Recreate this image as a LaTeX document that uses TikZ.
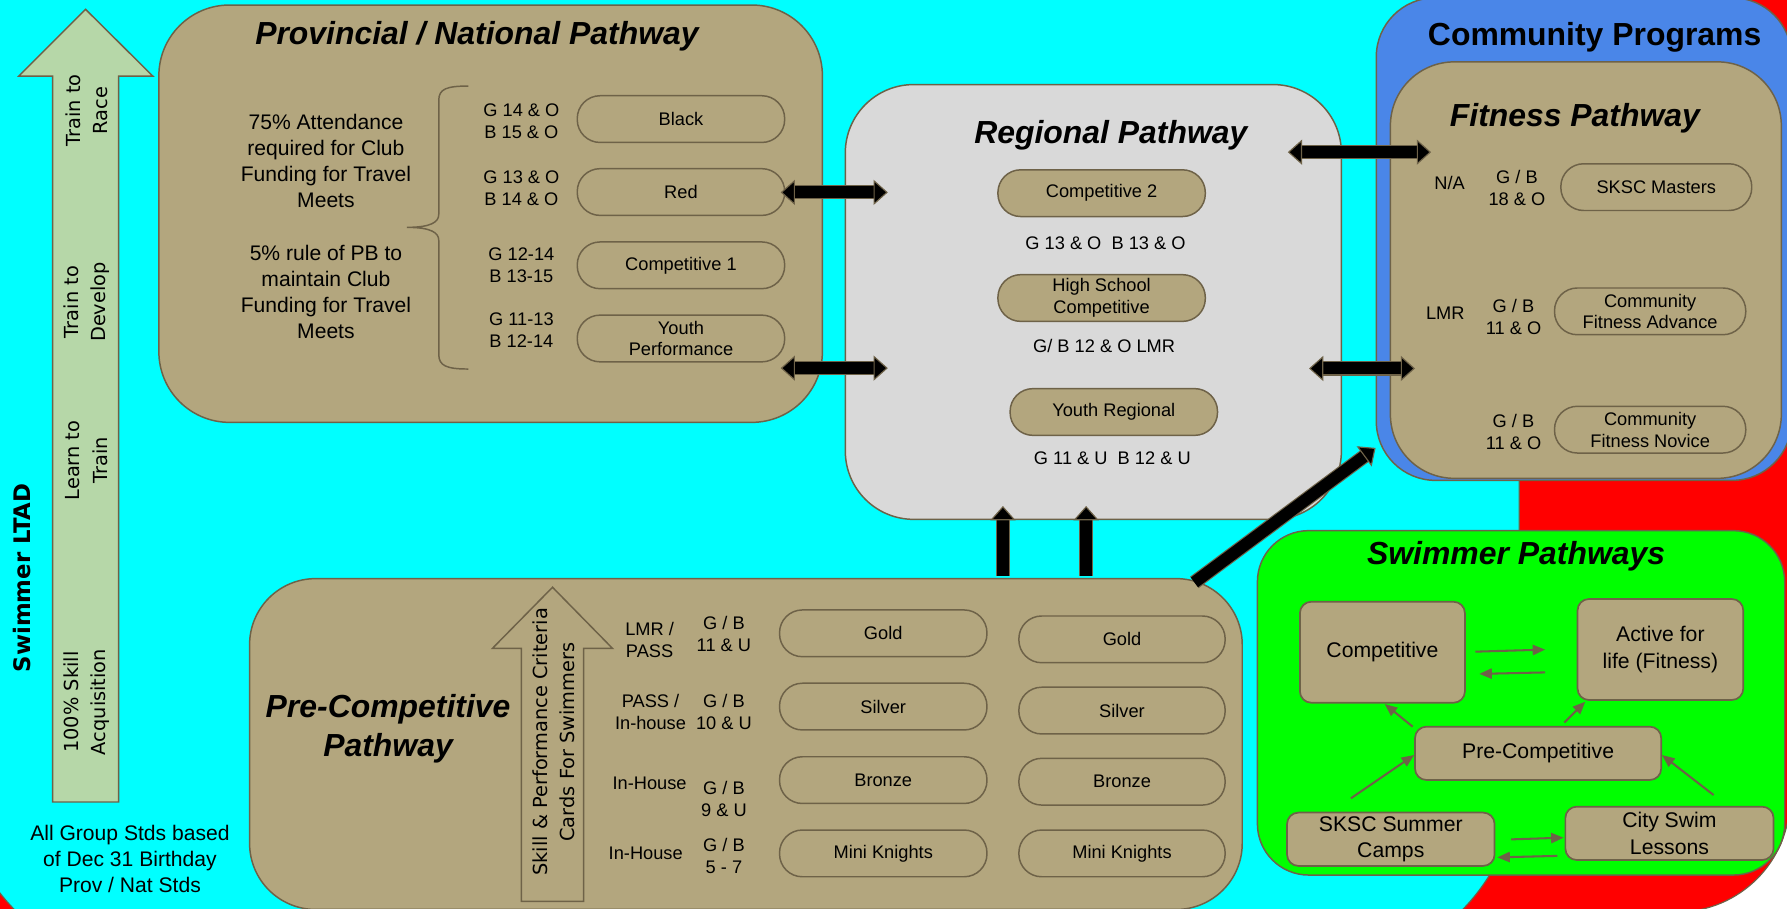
\documentclass[tikz,border=0pt]{standalone}
\usepackage{fontspec}
\setmainfont{Liberation Sans}
\newfontfamily\dvsans{DejaVu Sans}
\usetikzlibrary{arrows.meta}
\definecolor{tanfill}{HTML}{B3A67E}
\definecolor{edgecol}{HTML}{6E6248}
\definecolor{cyanbg}{HTML}{00FFFF}
\definecolor{redbg}{HTML}{FF0000}
\definecolor{regfill}{HTML}{D9D9D9}
\definecolor{bluefill}{HTML}{4A86E8}
\definecolor{greenfill}{HTML}{00FF00}
\definecolor{ltadfill}{HTML}{B6D7A8}
\newcommand\fsTitle{\fontsize{28}{34.6}\selectfont\bfseries\itshape}
\newcommand\fsHead{\fontsize{28}{32}\selectfont\bfseries}
\newcommand\fsPill{\fontsize{16}{19}\selectfont}
\newcommand\fsAge{\fontsize{16}{19.3}\selectfont}
\newcommand\fsNote{\fontsize{18.5}{22.7}\selectfont}
\newcommand\fsSw{\fontsize{18.6}{23.5}\selectfont}
\newcommand\fsRot{\dvsans\fontsize{17}{24}\selectfont}
\newcommand\fsRotB{\dvsans\fontsize{17}{23.7}\selectfont}
\newcommand\fsLtad{\dvsans\bfseries\fontsize{20}{24}\selectfont}
\tikzset{
  bigtip/.tip={Triangle[length=12.5pt,width=22pt,line width=1pt,color=edgecol,fill=black]},
  pane/.style={draw=edgecol, line width=1.3pt, inner sep=0pt, outer sep=0pt},
  txt/.style={inner sep=0pt, outer sep=0pt, align=center},
  pill/.style={draw=edgecol, fill=tanfill, line width=1.3pt, rounded corners=20pt,
    minimum width=182pt, minimum height=41pt, inner sep=0pt, align=center, font=\fsPill},
  sbox/.style={draw=edgecol, fill=tanfill, line width=1.5pt, rounded corners=10pt,
    inner sep=0pt, align=center, font=\fsSw},
  dblarrow/.style={line width=10.5pt, draw=black, bigtip-bigtip,
    preaction={draw=edgecol, line width=12.5pt, arrows=-, shorten <=9pt, shorten >=9pt}},
  sglarrow/.style={line width=10.5pt, draw=black, -bigtip,
    preaction={draw=edgecol, line width=12.5pt, arrows=-, shorten >=9pt}},
  thinarrow/.style={draw=edgecol, line width=1.8pt, -{Triangle[length=11pt,width=9pt]}}
}
\begin{document}
\begin{tikzpicture}[x=1pt,y=-1pt]
\useasboundingbox (0,0) rectangle (1568,797);
\clip (0,0) rectangle (1568,797);
% backgrounds
\fill[white] (0,0) rectangle (1568,797);
\draw[draw=edgecol, line width=1pt, fill=redbg, rounded corners=99pt] (-300,-300) rectangle (1570.6,800.2);
\draw[draw=edgecol, line width=1pt, fill=cyanbg, rounded corners=175pt] (-37,-219) rectangle (1333,851);

% LTAD arrow
\draw[draw=edgecol, line width=1.3pt, fill=ltadfill] (46.1,703.7) -- (46.1,66.7) -- (16.6,66.7) -- (75.1,8.2) -- (134,66.7) -- (104.1,66.7) -- (104.1,703.7) -- cycle;
\node[txt, rotate=90, font=\fsRot] (ltad1) at (76,97) {Train to\\Race};
\node[txt, rotate=90, font=\fsRot] (ltad2) at (76,265) {Train to\\Develop};
\node[txt, rotate=90, font=\fsRot] (ltad3) at (76,404) {Learn to\\Train};
\node[txt, rotate=90, font=\fsRot] (ltad4) at (76,616) {100\% Skill\\Acquisition};
\node[txt, rotate=90, font=\fsLtad] (ltadT) at (19,507) {Swimmer LTAD};
\node[txt, font=\fsNote] (stds) at (114,753.5) {All Group Stds based\\of Dec 31 Birthday\\Prov / Nat Stds};

% Provincial / National
\node[pane, fill=tanfill, rounded corners=62pt, minimum width=582.2pt, minimum height=366.2pt] (prov) at (430.5,187.5) {};
\node[txt, font=\fsTitle] (provT) at (418.5,32.2) {Provincial / National Pathway};
\node[txt, font=\fsNote] (att) at (286,141.3) {75\% Attendance\\required for Club\\Funding for Travel\\Meets};
\node[txt, font=\fsNote] (pbrule) at (286,256.4) {5\% rule of PB to\\maintain Club\\Funding for Travel\\Meets};
\draw[draw=edgecol, line width=1.3pt] (411,75.5) .. controls (392,75.5) and (385,78) .. (385,88) -- (385,188) .. controls (385,195) and (378,199.5) .. (357,199.5) .. controls (378,199.5) and (385,204) .. (385,211) -- (385,311) .. controls (385,321) and (392,323.8) .. (411,323.8);
\node[txt, font=\fsAge] (ageBlack) at (457.5,106) {G 14 \& O\\B 15 \& O};
\node[txt, font=\fsAge] (ageRed) at (457.5,164.8) {G 13 \& O\\B 14 \& O};
\node[txt, font=\fsAge] (ageC1) at (457.5,232.5) {G 12-14\\B 13-15};
\node[txt, font=\fsAge] (ageYP) at (457.5,289.5) {G 11-13\\B 12-14};
\node[pill] (pBlack) at (597.5,104.5) {Black};
\node[pill] (pRed) at (597.5,168.5) {Red};
\node[pill] (pComp1) at (597.5,232.8) {Competitive 1};
\node[pill] (pYP) at (597.5,297) {Youth\\Performance};

% Regional
\node[pane, fill=regfill, rounded corners=60pt, minimum width=435.3pt, minimum height=381.5pt] (reg) at (959.35,264.95) {};
\node[txt, font=\fsTitle] (regT) at (974.7,118.7) {Regional Pathway};
\node[pill] (pComp2) at (966.6,169.5) {Competitive 2};
\node[txt, font=\fsAge] (ageComp2) at (970,213) {G 13 \& O\ \ B 13 \& O};
\node[pill] (pHSC) at (966.6,261.5) {High School\\Competitive};
\node[txt, font=\fsAge] (ageHSC) at (968.8,303.2) {G/ B 12 \& O LMR};
\node[pill] (pYR) at (977.3,361.5) {Youth Regional};
\node[txt, font=\fsAge] (ageYR) at (976,401.9) {G 11 \& U\ \ B 12 \& U};

% Community programs
\node[pane, fill=bluefill, rounded corners=52pt, minimum width=364.4pt, minimum height=423.5pt] (comm) at (1389.8,209.75) {};
\node[txt, font=\fsHead] (commT) at (1399.2,32.6) {Community Programs};
\node[pane, fill=tanfill, rounded corners=56pt, minimum width=343pt, minimum height=365.4pt] (fit) at (1391.5,237) {};
\node[txt, font=\fsTitle] (fitT) at (1381.9,103.8) {Fitness Pathway};
\node[txt, font=\fsAge] (lvlMast) at (1272,160.2) {N/A};
\node[txt, font=\fsAge] (ageMast) at (1331,164.6) {G / B\\18 \& O};
\node[txt, font=\fsAge] (lvlCFA) at (1268.2,274.4) {LMR};
\node[txt, font=\fsAge] (ageCFA) at (1328,277.9) {G / B\\11 \& O};
\node[txt, font=\fsAge] (ageCFN) at (1328,379.3) {G / B\\11 \& O};
\node[pill, minimum width=167.5pt] (pMast) at (1453.3,164.2) {SKSC Masters};
\node[pill, minimum width=167.8pt] (pCFA) at (1447.9,273.2) {Community\\Fitness Advance};
\node[pill, minimum width=167.8pt] (pCFN) at (1447.9,377) {Community\\Fitness Novice};

% Pre-Competitive
\node[pane, fill=tanfill, rounded corners=58pt, minimum width=871pt, minimum height=290.3pt] (pre) at (654.5,652.85) {};
\node[txt, font=\fsTitle] (preT) at (340.5,639.3) {Pre-Competitive\\Pathway};
\draw[draw=edgecol, line width=1.3pt, fill=tanfill] (457.5,791) -- (457.5,569) -- (432,569) -- (484.8,515.3) -- (537.5,569) -- (512,569) -- (512,791) -- cycle;
\node[txt, rotate=90, font=\fsRotB] (skill) at (486,651) {Skill \& Performance Criteria\\Cards For Swimmers};
\node[txt, font=\fsAge] (lvlGold) at (570,561.2) {LMR /\\PASS};
\node[txt, font=\fsAge] (ageGold) at (635.2,556.2) {G / B\\11 \& U};
\node[txt, font=\fsAge] (lvlSilver) at (570.8,624.4) {PASS /\\In-house};
\node[txt, font=\fsAge] (ageSilver) at (635.2,624.4) {G / B\\10 \& U};
\node[txt, font=\fsAge] (lvlBronze) at (570,687.3) {In-House};
\node[txt, font=\fsAge] (ageBronze) at (635.2,701.2) {G / B\\9 \& U};
\node[txt, font=\fsAge] (lvlMini) at (566.6,748.7) {In-House};
\node[txt, font=\fsAge] (ageMini) at (635.2,751) {G / B\\5 - 7};
\node[pill] (pGoldA) at (775,555.7) {Gold};
\node[pill] (pSilverA) at (775,620) {Silver};
\node[pill] (pBronzeA) at (775,684.5) {Bronze};
\node[pill] (pMiniA) at (775,748.8) {Mini Knights};
\node[pill, minimum width=181pt] (pGoldB) at (984.5,561) {Gold};
\node[pill, minimum width=181pt] (pSilverB) at (984.5,623.5) {Silver};
\node[pill, minimum width=181pt] (pBronzeB) at (984.5,685.9) {Bronze};
\node[pill, minimum width=181pt] (pMiniB) at (984.5,748.8) {Mini Knights};

% Swimmer Pathways
\node[pane, fill=greenfill, rounded corners=45pt, minimum width=462.7pt, minimum height=302.2pt] (swp) at (1334.65,616.7) {};
\node[txt, font=\fsTitle] (swpT) at (1330.3,488.4) {Swimmer Pathways};
\node[sbox, minimum width=144.8pt, minimum height=88.6pt] (sComp) at (1213,572.3) {Competitive};
\node[sbox, minimum width=145.4pt, minimum height=88.6pt] (sAct) at (1456.9,569.9) {Active for\\life (Fitness)};
\node[sbox, minimum width=216pt, minimum height=46.8pt] (sPre) at (1349.6,661) {Pre-Competitive};
\node[sbox, minimum width=182.1pt, minimum height=46.8pt] (sCamp) at (1220.35,736.4) {SKSC Summer\\Camps};
\node[sbox, minimum width=182.7pt, minimum height=46.8pt] (sCity) at (1464.85,731.2) {City Swim\\Lessons};

\coordinate (t1a) at (1294.5,571.8); \coordinate (t1b) at (1355.8,570);
\coordinate (t2a) at (1355.8,590);   \coordinate (t2b) at (1298,591.3);
\coordinate (t3a) at (1239.5,637.6); \coordinate (t3b) at (1215,617.7);
\coordinate (t4a) at (1372.6,634);   \coordinate (t4b) at (1391,615.7);
\coordinate (t5a) at (1185.3,700.5); \coordinate (t5b) at (1240.8,662.5);
\coordinate (t6a) at (1503.6,697.6); \coordinate (t6b) at (1458.3,662.5);
\coordinate (t7a) at (1326,736.5);   \coordinate (t7b) at (1372,735);
\coordinate (t8a) at (1366.5,751);   \coordinate (t8b) at (1313.8,752.3);
\draw[thinarrow] (t1a) -- (t1b);
\draw[thinarrow] (t2a) -- (t2b);
\draw[thinarrow] (t3a) -- (t3b);
\draw[thinarrow] (t4a) -- (t4b);
\draw[thinarrow] (t5a) -- (t5b);
\draw[thinarrow] (t6a) -- (t6b);
\draw[thinarrow] (t7a) -- (t7b);
\draw[thinarrow] (t8a) -- (t8b);

% big arrows
\coordinate (a1) at (685,168.8);   \coordinate (a2) at (779,168.8);
\coordinate (a3) at (685,323);     \coordinate (a4) at (779,323);
\coordinate (a5) at (1130,133.5);  \coordinate (a6) at (1255.7,133.5);
\coordinate (a7) at (1148.6,323.3);\coordinate (a8) at (1241.6,323.3);
\coordinate (u1) at (880,505.4);   \coordinate (u2) at (880,444);
\coordinate (u3) at (953,505.4);   \coordinate (u4) at (953,444);
\coordinate (d1) at (1048,511);    \coordinate (d2) at (1207,393);
\draw[dblarrow] (a1) -- (a2);
\draw[dblarrow] (a3) -- (a4);
\draw[dblarrow] (a5) -- (a6);
\draw[dblarrow] (a7) -- (a8);
\draw[sglarrow] (u1) -- (u2);
\draw[sglarrow] (u3) -- (u4);
\draw[sglarrow] (d1) -- (d2);
\end{tikzpicture}
\end{document}
